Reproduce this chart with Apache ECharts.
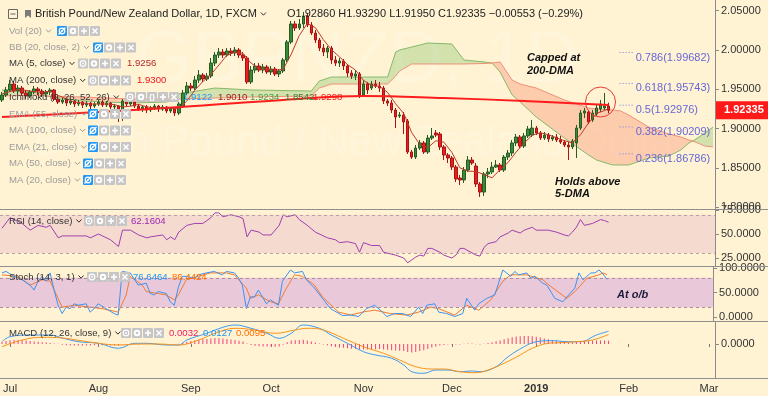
<!DOCTYPE html>
<html>
<head>
<meta charset="utf-8">
<script src="https://cdn.jsdelivr.net/npm/echarts@6/dist/echarts.min.js"></script>
<style>
html,body{margin:0;padding:0;background:#fff3d3;overflow:hidden;}
#chart{width:768px;height:396px;}
</style>
</head>
<body>
<div id="chart"></div>
<script>
// ---------------- DATA ----------------
const opens = [1.9364,1.9427,1.9491,1.9567,1.9478,1.9516,1.9453,1.9415,1.9465,1.9504,
1.9478,1.9440,1.9465,1.9491,1.9376,1.9338,1.9364,1.9325,1.9351,1.9313,
1.9338,1.9300,1.9325,1.9287,1.9313,1.9338,1.9300,1.9325,1.9275,1.9287,
1.9135,1.9351,1.9313,1.9338,1.9287,1.9249,1.9275,1.9236,1.9262,1.9287,
1.9249,1.9275,1.9224,1.9249,1.9198,1.9287,1.9453,1.9542,1.9516,1.9618,
1.9682,1.9631,1.9669,1.9834,1.9936,1.9974,1.9936,1.9987,1.9962,2.0000,
1.9936,1.9898,1.9593,1.9745,1.9796,1.9745,1.9784,1.9720,1.9758,1.9695,
1.9733,1.9873,2.0102,2.0331,2.0280,2.0331,2.0432,2.0318,2.0216,2.0127,
2.0025,1.9974,2.0025,1.9873,1.9834,1.9860,1.9796,1.9707,1.9669,1.9695,
1.9427,1.9567,1.9516,1.9567,1.9542,1.9516,1.9351,1.9325,1.9236,1.9160,
1.9173,1.9097,1.8702,1.8638,1.8753,1.8817,1.8702,1.8880,1.8944,1.8931,
1.8766,1.8664,1.8626,1.8511,1.8371,1.8346,1.8473,1.8600,1.8524,1.8295,
1.8193,1.8422,1.8448,1.8511,1.8537,1.8473,1.8638,1.8689,1.8817,1.8893,
1.8778,1.8906,1.8918,1.9007,1.8944,1.8880,1.8918,1.8867,1.8893,1.8855,
1.8829,1.8791,1.8766,1.8817,1.9007,1.9198,1.9211,1.9109,1.9185,1.9249,
1.9262,1.9286];
const closes = [1.9427,1.9491,1.9567,1.9478,1.9516,1.9453,1.9415,1.9465,1.9504,1.9478,
1.9440,1.9465,1.9491,1.9376,1.9338,1.9364,1.9325,1.9351,1.9313,1.9338,
1.9300,1.9325,1.9287,1.9313,1.9338,1.9300,1.9325,1.9275,1.9287,1.9135,
1.9351,1.9313,1.9338,1.9287,1.9249,1.9275,1.9236,1.9262,1.9287,1.9249,
1.9275,1.9224,1.9249,1.9198,1.9313,1.9453,1.9542,1.9516,1.9618,1.9682,
1.9631,1.9669,1.9834,1.9936,1.9974,1.9936,1.9987,1.9962,2.0000,1.9936,
1.9898,1.9593,1.9745,1.9796,1.9745,1.9784,1.9720,1.9758,1.9695,1.9733,
1.9873,2.0102,2.0331,2.0280,2.0331,2.0432,2.0318,2.0216,2.0127,2.0025,
1.9974,2.0025,1.9873,1.9834,1.9860,1.9796,1.9707,1.9669,1.9695,1.9427,
1.9567,1.9491,1.9567,1.9542,1.9516,1.9351,1.9325,1.9236,1.9147,1.9173,
1.9084,1.8702,1.8638,1.8753,1.8817,1.8702,1.8880,1.8906,1.8918,1.8766,
1.8664,1.8626,1.8511,1.8359,1.8346,1.8473,1.8600,1.8562,1.8295,1.8193,
1.8422,1.8448,1.8511,1.8537,1.8473,1.8638,1.8689,1.8817,1.8893,1.8778,
1.8906,1.8995,1.9007,1.8944,1.8880,1.8918,1.8867,1.8893,1.8855,1.8829,
1.8791,1.8766,1.8842,1.9007,1.9198,1.9224,1.9084,1.9198,1.9262,1.9313,
1.9287,1.92335];
const highs = [1.9465,1.9529,1.9618,1.9606,1.9555,1.9542,1.9491,1.9491,1.9542,1.9529,
1.9504,1.9491,1.9516,1.9504,1.9402,1.9389,1.9376,1.9376,1.9364,1.9364,
1.9351,1.9351,1.9338,1.9338,1.9364,1.9364,1.9351,1.9338,1.9313,1.9300,
1.9376,1.9376,1.9364,1.9351,1.9313,1.9300,1.9300,1.9287,1.9313,1.9300,
1.9300,1.9287,1.9275,1.9262,1.9338,1.9491,1.9593,1.9580,1.9669,1.9745,
1.9707,1.9707,1.9898,1.9974,2.0025,2.0013,2.0025,2.0025,2.0038,2.0025,
1.9974,1.9923,1.9796,1.9834,1.9834,1.9822,1.9809,1.9796,1.9784,1.9758,
1.9898,2.0127,2.0369,2.0369,2.0394,2.0483,2.0471,2.0356,2.0254,2.0153,
2.0076,2.0051,2.0051,1.9923,1.9898,1.9885,1.9822,1.9745,1.9745,1.9720,
1.9618,1.9593,1.9606,1.9618,1.9593,1.9542,1.9376,1.9364,1.9262,1.9211,
1.9211,1.9122,1.8728,1.8791,1.8855,1.8842,1.8918,1.9007,1.8982,1.8957,
1.8791,1.8689,1.8651,1.8537,1.8410,1.8511,1.8651,1.8638,1.8562,1.8320,
1.8448,1.8499,1.8575,1.8600,1.8562,1.8664,1.8728,1.8855,1.8931,1.8918,
1.8944,1.9033,1.9109,1.9033,1.8969,1.8957,1.8944,1.8918,1.8931,1.8906,
1.8855,1.8829,1.8867,1.9046,1.9236,1.9262,1.9236,1.9236,1.9300,1.9364,
1.9453,1.9329];
const lows = [1.9338,1.9402,1.9465,1.9453,1.9440,1.9415,1.9376,1.9389,1.9440,1.9427,
1.9402,1.9402,1.9427,1.9351,1.9313,1.9313,1.9287,1.9300,1.9275,1.9287,
1.9262,1.9275,1.9249,1.9262,1.9287,1.9275,1.9275,1.9249,1.9236,1.9084,
1.9097,1.9287,1.9287,1.9262,1.9224,1.9211,1.9198,1.9211,1.9236,1.9211,
1.9224,1.9198,1.9198,1.9160,1.9173,1.9262,1.9427,1.9478,1.9491,1.9580,
1.9593,1.9606,1.9644,1.9796,1.9898,1.9898,1.9911,1.9923,1.9923,1.9898,
1.9860,1.9567,1.9567,1.9707,1.9720,1.9707,1.9695,1.9682,1.9669,1.9656,
1.9707,1.9847,2.0076,2.0242,2.0254,2.0280,2.0292,2.0191,2.0089,1.9987,
1.9923,1.9898,1.9822,1.9796,1.9784,1.9745,1.9656,1.9631,1.9618,1.9389,
1.9402,1.9440,1.9491,1.9516,1.9465,1.9313,1.9287,1.9198,1.9007,1.9135,
1.8931,1.8677,1.8613,1.8613,1.8728,1.8677,1.8677,1.8855,1.8893,1.8728,
1.8600,1.8562,1.8473,1.8320,1.8282,1.8308,1.8448,1.8537,1.8257,1.8130,
1.8143,1.8371,1.8422,1.8499,1.8448,1.8448,1.8600,1.8651,1.8778,1.8753,
1.8753,1.8880,1.8893,1.8918,1.8855,1.8855,1.8829,1.8842,1.8829,1.8804,
1.8766,1.8600,1.8740,1.8626,1.8982,1.9135,1.9058,1.9084,1.9160,1.9211,
1.9236,1.9195];

// [bar index, value]
const ma5 = [[0,1.9440],[2,1.9470],[4,1.9496],[6,1.9486],[8,1.9471],[10,1.9460],[12,1.9476],[14,1.9422],[16,1.9379],[18,1.9338],[20,1.9325],[22,1.9313],[24,1.9313],[26,1.9313],[28,1.9305],[30,1.9275],[32,1.9285],[34,1.9308],[36,1.9277],[38,1.9262],[40,1.9262],[42,1.9257],[44,1.9252],[46,1.9351],[48,1.9488],[50,1.9598],[52,1.9687],[54,1.9809],[56,1.9934],[58,1.9972],[60,1.9957],[62,1.9834],[64,1.9756],[66,1.9758],[68,1.9740],[70,1.9756],[72,1.9946],[74,2.0183],[76,2.0338],[78,2.0285],[80,2.0132],[82,2.0005],[84,1.9913],[86,1.9814],[88,1.9745],[90,1.9613],[92,1.9549],[94,1.9537],[96,1.9460],[98,1.9315],[100,1.9193],[102,1.8949],[104,1.8799],[106,1.8758],[108,1.8845],[110,1.8827],[112,1.8697],[114,1.8501],[116,1.8458],[118,1.8455],[120,1.8415],[122,1.8374],[124,1.8478],[126,1.8570],[128,1.8702],[130,1.8817],[132,1.8916],[134,1.8946],[136,1.8923],[138,1.8883],[140,1.8847],[142,1.8817],[144,1.8921],[146,1.9071],[148,1.9193],[150,1.9229],[151,1.9256]];
const ma200 = [[0,1.9147],[24,1.9211],[48,1.9287],[70,1.9364],[90,1.9415],[110,1.9389],[130,1.9351],[151,1.9300]];

const cloudIdx = [0,9,11,20,32,41,43,44,53,62,77,79,82,96,98,99,102,106,112,115,120,122,124,127,129,133,140,146,148,152,154,156,161,166,169,171,172,175,177];
const spanA = [1.9491,1.9465,1.9415,1.9351,1.9325,1.9338,1.9376,1.9440,1.9516,1.9491,1.9478,1.9606,1.9656,1.9656,1.9974,2.0000,2.0038,2.0089,2.0076,1.9873,1.9847,1.9834,1.9720,1.9427,1.9338,1.9147,1.8880,1.8664,1.8600,1.8537,1.8537,1.8537,1.8626,1.8651,1.8728,1.8817,1.8842,1.8944,1.9020];
const spanB = [1.9415,1.9427,1.9415,1.9402,1.9376,1.9376,1.9376,1.9376,1.9389,1.9402,1.9415,1.9516,1.9567,1.9567,1.9669,1.9733,1.9822,1.9822,1.9822,1.9822,1.9828,1.9834,1.9847,1.9618,1.9567,1.9516,1.9364,1.9262,1.9249,1.9236,1.9224,1.9173,1.9020,1.8931,1.8893,1.8855,1.8842,1.8778,1.8766];

const rsi = [[0,56],[2,67],[5,61],[7,54],[9,59],[11,57],[12,59],[14,46],[15,48],[18,48],[21,48],[22,46],[24,50],[25,48],[27,44],[29,37],[30,54],[32,54],[34,49],[36,46],[37,47],[40,49],[41,44],[42,47],[43,44],[44,52],[46,59],[48,61],[50,61],[52,67],[53,72],[54,72],[55,68],[57,70],[59,68],[60,66],[61,47],[62,54],[64,52],[65,49],[67,49],[69,59],[70,70],[71,68],[73,70],[74,65],[76,59],[78,52],[81,46],[83,44],[84,41],[86,42],[88,40],[89,31],[90,41],[92,38],[94,38],[95,31],[97,29],[98,28],[100,25],[101,20],[103,26],[104,28],[105,27],[106,35],[107,35],[109,31],[110,28],[112,25],[113,28],[114,35],[115,35],[118,28],[119,27],[120,36],[121,40],[123,42],[124,47],[126,51],[127,54],[129,51],[130,54],[132,57],[133,54],[136,54],[138,52],[140,49],[141,48],[142,52],[143,57],[144,65],[145,59],[147,61],[149,65],[150,64],[151,62.16]];

const stochK = [[0,90],[1,93],[3,83],[5,76],[7,65],[8,55],[9,73],[10,83],[11,73],[12,90],[13,55],[14,24],[15,7],[16,20],[17,17],[18,27],[19,24],[21,27],[22,10],[23,17],[24,27],[26,17],[28,7],[29,4],[30,93],[32,90],[34,65],[36,69],[37,48],[38,45],[39,52],[41,48],[42,31],[43,24],[44,60],[45,83],[46,83],[48,79],[49,86],[51,90],[53,93],[55,86],[56,93],[58,90],[59,80],[60,65],[61,17],[62,41],[63,41],[64,55],[66,27],[67,35],[69,24],[70,73],[72,96],[73,90],[75,93],[76,76],[78,59],[80,38],[82,17],[85,3],[87,4],[89,1],[91,17],[93,24],[95,10],[96,1],[98,7],[100,7],[102,1],[104,20],[105,7],[106,24],[108,27],[109,10],[111,7],[113,1],[115,7],[116,38],[118,14],[119,27],[121,38],[123,45],[125,96],[127,83],[128,93],[129,86],[131,90],[132,79],[133,83],[135,69],[136,65],[138,38],[140,31],[141,41],[143,59],[144,90],[145,76],[147,90],[148,90],[149,96],[150,88],[151,76.65]];
const stochD = [[0,86],[4,83],[7,65],[10,76],[12,73],[14,38],[15,20],[18,24],[22,20],[25,17],[29,10],[31,45],[32,83],[35,65],[36,52],[39,48],[41,45],[43,35],[44,45],[46,76],[49,83],[52,90],[56,90],[58,86],[61,59],[62,38],[64,45],[67,31],[69,27],[71,59],[73,86],[75,83],[78,65],[80,41],[84,10],[87,4],[90,10],[93,14],[97,7],[101,4],[104,10],[107,20],[109,17],[113,4],[116,24],[119,14],[122,35],[125,73],[127,86],[131,86],[135,76],[137,62],[141,38],[143,52],[146,79],[149,86],[150,90],[151,86.44]];

const macdLine = [[0,0.0023],[2,0.0073],[7,0.0090],[12,0.0090],[15,0.0060],[19,0.0023],[24,0.0007],[29,-0.0043],[33,0.0007],[36,0.0007],[41,-0.0010],[44,-0.0010],[46,0.0040],[51,0.0107],[55,0.0167],[58,0.0190],[62,0.0157],[66,0.0107],[69,0.0057],[72,0.0107],[75,0.0190],[79,0.0157],[82,0.0090],[86,0.0007],[90,-0.0077],[93,-0.0110],[97,-0.0143],[100,-0.0210],[102,-0.0277],[105,-0.0293],[108,-0.0260],[111,-0.0260],[114,-0.0277],[117,-0.0270],[119,-0.0277],[123,-0.0227],[126,-0.0127],[130,-0.0027],[133,0.0023],[137,0.0033],[141,0.0023],[144,0.0023],[148,0.0090],[151,0.0127]];
const signalLine = [[0,-0.0027],[5,0.0040],[10,0.0067],[15,0.0060],[19,0.0037],[24,0.0007],[29,-0.0010],[34,0.0000],[39,0.0000],[44,-0.0010],[49,0.0040],[53,0.0107],[58,0.0157],[63,0.0140],[68,0.0107],[73,0.0140],[76,0.0157],[80,0.0140],[85,0.0057],[90,-0.0027],[95,-0.0093],[99,-0.0160],[103,-0.0227],[107,-0.0250],[110,-0.0250],[114,-0.0277],[118,-0.0287],[121,-0.0260],[125,-0.0193],[129,-0.0110],[132,-0.0043],[136,0.0007],[139,0.0013],[143,0.0023],[147,0.0040],[151,0.0095]];
const macdHist = [0.0020,0.0030,0.0038,0.0040,0.0040,0.0037,0.0034,0.0030,0.0026,0.0022,
0.0018,0.0014,0.0010,0.0005,0.0002,-0.0008,-0.0012,-0.0014,-0.0015,-0.0016,
-0.0015,-0.0014,-0.0014,-0.0013,-0.0012,-0.0012,-0.0011,-0.0012,-0.0013,-0.0016,
-0.0006,-0.0004,-0.0002,-0.0003,-0.0004,0.0003,0.0004,0.0003,0.0002,-0.0002,
-0.0003,-0.0004,-0.0003,-0.0005,0.0002,0.0012,0.0022,0.0030,0.0038,0.0044,
0.0047,0.0050,0.0056,0.0061,0.0060,0.0056,0.0051,0.0045,0.0040,0.0032,
0.0024,0.0005,-0.0010,-0.0018,-0.0022,-0.0024,-0.0026,-0.0026,-0.0027,-0.0025,
-0.0008,0.0018,0.0035,0.0038,0.0040,0.0042,0.0036,0.0026,0.0015,0.0004,
-0.0006,-0.0012,-0.0022,-0.0030,-0.0034,-0.0038,-0.0043,-0.0047,-0.0048,-0.0055,
-0.0055,-0.0056,-0.0054,-0.0052,-0.0050,-0.0055,-0.0058,-0.0062,-0.0066,-0.0068,
-0.0070,-0.0080,-0.0084,-0.0080,-0.0070,-0.0062,-0.0050,-0.0036,-0.0024,-0.0016,
-0.0010,-0.0006,-0.0004,-0.0006,-0.0005,0.0002,0.0006,0.0004,-0.0003,-0.0006,
0.0003,0.0010,0.0018,0.0028,0.0036,0.0048,0.0058,0.0068,0.0076,0.0078,
0.0080,0.0080,0.0078,0.0072,0.0064,0.0056,0.0048,0.0040,0.0034,0.0028,
0.0022,0.0018,0.0016,0.0020,0.0028,0.0032,0.0030,0.0032,0.0034,0.0036,
0.0035,0.0032];

const fibRatios = [0.786, 0.618, 0.5, 0.382, 0.236];
const fibPrices = [1.99682, 1.95743, 1.92976, 1.90209, 1.86786];
const priceTicks = [1.80, 1.85, 1.90, 1.95, 2.00, 2.05];
const rsiTicks = [25, 50, 75];
const stochTicks = [0, 50, 100];
const macdTicks = [0];
const monthNames = {'07':'Jul','08':'Aug','09':'Sep','10':'Oct','11':'Nov','12':'Dec','01':'2019','02':'Feb','03':'Mar'};

// ---------------- trading-day categories ----------------
const N_CATS = 178;
const dates = [];
(function(){ const d = new Date(Date.UTC(2018,5,28));
  while (dates.length < N_CATS) { const wd = d.getUTCDay(); if (wd !== 0 && wd !== 6) dates.push(d.toISOString().slice(0,10)); d.setUTCDate(d.getUTCDate()+1); } })();
const monthStart = dates.map((s,i) => i > 0 && s.slice(5,7) !== dates[i-1].slice(5,7));

const FONT = '"Liberation Sans", Arial, sans-serif';
const ctx = document.createElement('canvas').getContext('2d');
function tw(t, font){ ctx.font = font; return ctx.measureText(t).width; }
function hasFont(name){
  const probe = 'MA (5, close) 0123456789';
  return tw(probe, '20px monospace') !== tw(probe, '20px "' + name + '", monospace');
}
const LFONT = hasFont('Liberation Sans Narrow') ? '11.5px "Liberation Sans Narrow", sans-serif' : '9.6px ' + FONT;

const chart = echarts.init(document.getElementById('chart'), null, {renderer:'canvas', width:768, height:396});

const xAxes = [0,1,2,3].map(i => ({
  type:'category', gridIndex:i, data:dates, boundaryGap:true,
  axisLine:{show:false},
  axisTick:{show:i===3, alignWithLabel:true, interval:(idx)=>monthStart[idx], length:3, lineStyle:{color:'#777'}},
  axisLabel:{show:i===3, interval:(idx)=>monthStart[idx], margin:5, color:'#333', fontSize:11, fontFamily:FONT,
    formatter:(v)=>{ const m = v.slice(5,7); return m==='01' ? '{y|2019}' : monthNames[m]; },
    rich:{y:{fontWeight:'bold', fontSize:11, color:'#333', fontFamily:FONT}}},
  splitLine:{show:false}
}));
function yAx(gi, min, max, ticks, digits){
  return {type:'value', gridIndex:gi, position:'right', min, max,
    axisLine:{show:true, lineStyle:{color:'#8a8a8a'}},
    axisTick:{show:true, inside:false, length:4, customValues:ticks, lineStyle:{color:'#8a8a8a'}},
    axisLabel:{customValues:ticks, formatter:(v)=>v.toFixed(digits), margin:6, color:'#333', fontSize:11, fontFamily:FONT},
    splitLine:{show:false}};
}

const cloudLow = cloudIdx.map((x,i)=>[x, Math.min(spanA[i], spanB[i])]);
const cloudGreen = cloudIdx.map((x,i)=>[x, Math.max(spanA[i]-spanB[i], 0)]);
const cloudRed = cloudIdx.map((x,i)=>[x, Math.max(spanB[i]-spanA[i], 0)]);

const series = [
  {type:'line', data:cloudLow, stack:'cloud', stackStrategy:'all', symbol:'none', silent:true, lineStyle:{width:0, opacity:0}, z:1},
  {type:'line', data:cloudGreen, stack:'cloud', stackStrategy:'all', symbol:'none', silent:true, lineStyle:{width:0, opacity:0}, areaStyle:{color:'rgba(140,196,110,0.38)', opacity:1}, z:1},
  {type:'line', data:cloudRed, stack:'cloud', stackStrategy:'all', symbol:'none', silent:true, lineStyle:{width:0, opacity:0}, areaStyle:{color:'rgba(250,135,105,0.36)', opacity:1}, z:1},
  {type:'line', data:cloudIdx.map((x,i)=>[x, spanA[i]]), symbol:'none', silent:true, lineStyle:{color:'#86b96a', width:1}, z:2},
  {type:'line', data:cloudIdx.map((x,i)=>[x, spanB[i]]), symbol:'none', silent:true, lineStyle:{color:'#f0907a', width:1}, z:2},
  {type:'candlestick', data:opens.map((o,i)=>[o, closes[i], lows[i], highs[i]]), barWidth:3,
    itemStyle:{color:'#3a8a3a', color0:'#ee1c1c', borderColor:'#245c24', borderColor0:'#a51414', borderWidth:1}, z:3},
  {type:'line', data:ma200, smooth:0.4, symbol:'none', lineStyle:{color:'#ff1c1c', width:2}, z:4},
  {type:'line', data:ma5, symbol:'none', lineStyle:{color:'#c0392b', width:1}, z:4},
  {type:'custom', data:fibPrices.map((p,i)=>[154, 157, p, i]), encode:{x:[0,1], y:2}, z:5,
    renderItem:(params, api)=>{
      const s = api.coord([api.value(0), api.value(2)]);
      const e = api.coord([api.value(1), api.value(2)]);
      const i = api.value(3);
      return {type:'group', children:[
        {type:'line', shape:{x1:s[0]-1, y1:s[1], x2:e[0], y2:e[1]}, style:{stroke:'#7a7ae6', lineWidth:1, lineDash:[1,2]}},
        {type:'text', style:{text: fibRatios[i] + '(' + fibPrices[i].toFixed(5) + ')', x:e[0]+3, y:s[1]+5, fill:'#6767d8', font:'11px ' + FONT, verticalAlign:'middle'}}
      ]};
    }},
  {type:'line', xAxisIndex:1, yAxisIndex:1, data:rsi, symbol:'none', lineStyle:{color:'#a040b0', width:1}, z:3,
    markArea:{silent:true, itemStyle:{color:'#f5dacf'}, data:[[{yAxis:30},{yAxis:70}]]},
    markLine:{silent:true, symbol:'none', label:{show:false}, lineStyle:{color:'#b9a0a6', type:[3,3], width:1}, data:[{yAxis:30},{yAxis:70}]}},
  {type:'line', xAxisIndex:2, yAxisIndex:2, data:stochK, symbol:'none', lineStyle:{color:'#3d93f0', width:1}, z:4,
    markArea:{silent:true, itemStyle:{color:'#e9c8d9'}, data:[[{yAxis:20},{yAxis:80}]]},
    markLine:{silent:true, symbol:'none', label:{show:false}, lineStyle:{color:'#a98ea0', type:[3,3], width:1}, data:[{yAxis:20},{yAxis:80}]}},
  {type:'line', xAxisIndex:2, yAxisIndex:2, data:stochD, symbol:'none', lineStyle:{color:'#f57a30', width:1}, z:3},
  {type:'bar', xAxisIndex:3, yAxisIndex:3, data:macdHist, barWidth:1, itemStyle:{color:'#f0407a'}, z:2},
  {type:'line', xAxisIndex:3, yAxisIndex:3, data:macdLine, smooth:0.4, symbol:'none', lineStyle:{color:'#3d9af0', width:1}, z:3},
  {type:'line', xAxisIndex:3, yAxisIndex:3, data:signalLine, smooth:0.4, symbol:'none', lineStyle:{color:'#f7941d', width:1}, z:3}
];

chart.setOption({
  animation:false,
  backgroundColor:'#fff3d3',
  grid:[
    {left:0, right:53, top:0, height:209},
    {left:0, right:53, top:210, height:56},
    {left:0, right:53, top:267, height:54},
    {left:0, right:53, top:322, height:56}
  ],
  xAxis:xAxes,
  yAxis:[
    yAx(0, 1.7977, 2.0636, priceTicks, 5),
    yAx(1, 16.67, 75.0, rsiTicks, 4),
    yAx(2, -8.16, 102.04, stochTicks, 4),
    yAx(3, -0.034, 0.022, macdTicks, 4)
  ],
  series
});

// ---------------- overlay texts / decorations ----------------
const G = [];
function txt(x, y, t, color, font, z){ G.push({type:'text', x, y, z:z||60, silent:true, style:{text:t, fill:color, font, verticalAlign:'middle', align:'left'}}); }
function chev(x, y, color){ G.push({type:'polyline', z:60, silent:true, shape:{points:[[x,y-1.5],[x+2.5,y+1.2],[x+5,y-1.5]]}, style:{stroke:color, lineWidth:1, fill:null}}); }
function icon(x, y, kind, blue){
  const bg = blue ? '#2196f3' : '#c6c6c6'; const w = '#ffffff';
  G.push({type:'rect', z:60, silent:true, shape:{x, y:y-5, width:10, height:10, r:1}, style:{fill:bg}});
  const cx = x+5;
  if (kind === 'eye' || kind === 'eyeoff') {
    G.push({type:'circle', z:61, silent:true, shape:{cx, cy:y, r:2.8}, style:{stroke:w, fill:null, lineWidth:1.2}});
    G.push({type:'circle', z:61, silent:true, shape:{cx, cy:y, r:0.9}, style:{fill:w}});
    if (kind === 'eyeoff') G.push({type:'line', z:61, silent:true, shape:{x1:x+1.5, y1:y+3.5, x2:x+8.5, y2:y-3.5}, style:{stroke:w, lineWidth:1.2}});
  } else if (kind === 'gear') {
    G.push({type:'circle', z:61, silent:true, shape:{cx, cy:y, r:3.2}, style:{fill:w}});
    G.push({type:'circle', z:62, silent:true, shape:{cx, cy:y, r:1.3}, style:{fill:bg}});
  } else if (kind === 'plus') {
    G.push({type:'line', z:61, silent:true, shape:{x1:x+2, y1:y, x2:x+8, y2:y}, style:{stroke:w, lineWidth:1.6}});
    G.push({type:'line', z:61, silent:true, shape:{x1:cx, y1:y-3, x2:cx, y2:y+3}, style:{stroke:w, lineWidth:1.6}});
  } else if (kind === 'x') {
    G.push({type:'line', z:61, silent:true, shape:{x1:x+2.5, y1:y-2.5, x2:x+7.5, y2:y+2.5}, style:{stroke:w, lineWidth:1.5}});
    G.push({type:'line', z:61, silent:true, shape:{x1:x+2.5, y1:y+2.5, x2:x+7.5, y2:y-2.5}, style:{stroke:w, lineWidth:1.5}});
  } else if (kind === 'brace') {
    G.push({type:'text', z:61, silent:true, x:cx, y, style:{text:'{}', fill:w, font:'bold 8px ' + FONT, align:'center', verticalAlign:'middle'}});
  }
}

// faint watermark
G.push({type:'text', z:0, silent:true, x:357, y:62, style:{text:'GBPNZD, 1D', fill:'rgba(255,255,255,0.2)', font:'74px ' + FONT, align:'center', verticalAlign:'middle'}});
G.push({type:'text', z:0, silent:true, x:360, y:143, style:{text:'British Pound / New Zealand Dollar', fill:'rgba(255,255,255,0.2)', font:'42px ' + FONT, align:'center', verticalAlign:'middle'}});

// pane separators
[209.5, 266.5, 321.5, 378.5].forEach(y => G.push({type:'line', z:40, silent:true, shape:{x1:0, y1:y, x2:768, y2:y}, style:{stroke:'#8f8f8f', lineWidth:1}}));

// title row
G.push({type:'rect', z:60, silent:true, shape:{x:8.5, y:9.5, width:9, height:9}, style:{stroke:'#666', fill:null, lineWidth:1}});
G.push({type:'line', z:60, silent:true, shape:{x1:10.5, y1:14, x2:15.5, y2:14}, style:{stroke:'#666', lineWidth:1}});
G.push({type:'polygon', z:60, silent:true, shape:{points:[[25,10],[31,10],[31,18],[28,15.5],[25,18]]}, style:{fill:'#7a7a7a'}});
const TFONT = '11px ' + FONT;
const title = 'British Pound/New Zealand Dollar, 1D, FXCM';
txt(35, 14, title, '#222', TFONT);
chev(35 + tw(title, TFONT) + 4, 14, '#333');
txt(287, 14, 'O1.92860 H1.93290 L1.91950 C1.92335 \u22120.00553 (\u22120.29%)', '#222', TFONT);

const GREY = '#9c9c9c', DARK = '#333';
const hidIcons = ['eyeoff','gear','plus','x'];
const visIcons = ['eye','gear','plus','x'];
const legendRows = [
  {y:31,   label:'Vol (20)', c:GREY, ix:57, icons:hidIcons, blue:true},
  {y:47.5, label:'BB (20, close, 2)', c:GREY, ix:93, icons:hidIcons, blue:true},
  {y:63.5, label:'MA (5, close)', c:DARK, ix:78, icons:visIcons, vals:[[127,'1.9256','#b22a2a']]},
  {y:80.5, label:'MA (200, close)', c:DARK, ix:88, icons:visIcons, vals:[[137,'1.9300','#f01414']]},
  {y:97,   label:'Ichimoku (9, 26, 52, 26)', c:DARK, ix:125, icons:['eye','gear','brace','plus','x'], vals:[[183,'1.9122','#2196f3'],[218,'1.9010','#a01c1c'],[250,'1.9234','#43a047'],[285,'1.8542','#2e7d32'],[313,'1.9298','#f01414']]},
  {y:114,  label:'EMA (55, close)', c:GREY, ix:88, icons:hidIcons, blue:true},
  {y:130.5,label:'MA (100, close)', c:GREY, ix:88, icons:hidIcons, blue:true},
  {y:147,  label:'EMA (21, close)', c:GREY, ix:88, icons:hidIcons, blue:true},
  {y:163.5,label:'MA (50, close)', c:GREY, ix:83, icons:hidIcons, blue:true},
  {y:180,  label:'MA (20, close)', c:GREY, ix:83, icons:hidIcons, blue:true},
  {y:221,  label:'RSI (14, close)', c:DARK, ix:84, icons:visIcons, vals:[[131,'62.1604','#9c27b0']]},
  {y:277,  label:'Stoch (14, 3, 1)', c:DARK, ix:87, icons:visIcons, vals:[[133,'76.6464','#2196f3'],[172,'86.4424','#ff6d00']]},
  {y:333,  label:'MACD (12, 26, close, 9)', c:DARK, ix:121, icons:visIcons, vals:[[169,'0.0032','#e91e63'],[203,'0.0127','#2196f3'],[236,'0.0095','#ff6d00']]}
];
legendRows.forEach(r => {
  txt(9, r.y, r.label, r.c, LFONT);
  chev(9 + tw(r.label, LFONT) + 4, r.y, r.c);
  r.icons.forEach((k, j) => icon(r.ix + j*11, r.y, k, r.blue && j === 0));
  (r.vals || []).forEach(v => txt(v[0], r.y, v[1], v[2], LFONT));
});

// annotations
const AFONT = 'italic bold 11px ' + FONT;
txt(527, 58, 'Capped at', '#111', AFONT);
txt(527, 71, '200-DMA', '#111', AFONT);
txt(555, 182, 'Holds above', '#111', AFONT);
txt(555, 194, '5-DMA', '#111', AFONT);
txt(617, 295, 'At o/b', '#1b1b3a', AFONT);

// circle around latest candles & last-price label (positioned through the axes)
const c = chart.convertToPixel({xAxisIndex:0, yAxisIndex:0}, [149, 1.9338]);
G.push({type:'circle', z:55, silent:true, shape:{cx:c[0], cy:c[1], r:15}, style:{stroke:'#e53935', fill:null, lineWidth:1}});
const lp = chart.convertToPixel({xAxisIndex:0, yAxisIndex:0}, [151, closes[151]]);
G.push({type:'rect', z:55, silent:true, shape:{x:716, y:lp[1]-9, width:52, height:18}, style:{fill:'#ff1a1a'}});
txt(724, lp[1], closes[151].toFixed(5), '#ffffff', 'bold 11px ' + FONT, 56);

chart.setOption({graphic:{elements:G}});
</script>
</body>
</html>
